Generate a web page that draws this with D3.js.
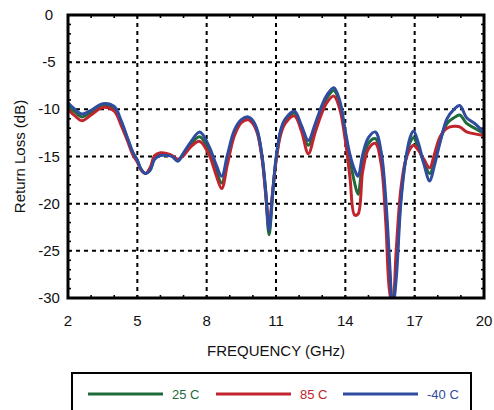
<!DOCTYPE html>
<meta charset="utf-8">
<style>
body { margin: 0; background: #fff; }
svg { font-family: "Liberation Sans", Arial, Helvetica, sans-serif; }
.tick-label { font-size: 15px; fill: #111; }
.axis-title { font-size: 15px; fill: #111; }
.legend-text { font-size: 13px; }
</style>
<body>
<script src="https://cdnjs.cloudflare.com/ajax/libs/d3/7.8.5/d3.min.js"></script>
<script>
'use strict';

// frequency points (GHz) shared by all three traces
const freq = [2.0, 2.3, 2.6, 3.0, 3.5, 4.0, 4.3, 4.6, 4.8, 5.0, 5.15, 5.35, 5.55, 5.75, 6.0, 6.3, 6.5, 6.75,
  7.0, 7.3, 7.7, 8.1, 8.4, 8.65, 8.9, 9.2, 9.5, 9.8, 10.0, 10.2, 10.4, 10.55, 10.7, 10.85, 11.0, 11.2, 11.4,
  11.8, 12.1, 12.4, 12.7, 13.0, 13.2, 13.5, 13.75, 14.0, 14.2, 14.4, 14.55, 14.75, 15.0, 15.3, 15.55, 15.75,
  15.9, 16.05, 16.2, 16.4, 16.6, 16.8, 16.95, 17.15, 17.4, 17.65, 17.85, 18.1, 18.4, 18.7, 18.95, 19.25, 19.6, 20.0];

// return loss (dB)
const rl25 = [-9.6, -10.3, -10.8, -10.3, -9.6, -9.9, -11.4, -13.3, -14.6, -15.4, -16.3, -16.8, -16.4, -15.1, -14.8, -14.8, -14.95, -15.4,
  -14.7, -13.7, -12.9, -14.4, -16.4, -17.8, -15.3, -12.5, -11.2, -10.9, -11.3, -12.4, -15.1, -18.7, -23.3, -19.2, -15.4, -12.4, -11.2,
  -10.4, -11.9, -13.8, -11.8, -9.8, -8.8, -8.0, -9.3, -12.6, -15.3, -17.8, -19.0, -15.6, -13.6, -13.1, -15.0, -20.5,
  -26.5, -31, -27, -19.5, -15.5, -13.5, -13.0, -14.0, -15.6, -16.8, -15.6, -13.3, -11.5, -10.9, -10.6, -11.5, -12.0, -12.6];

const rl85 = [-10.0, -10.7, -11.2, -10.6, -9.8, -10.2, -11.7, -13.5, -14.8, -15.6, -16.4, -16.8, -16.2, -14.9, -14.6, -14.7, -14.9, -15.3,
  -14.9, -14.0, -13.4, -14.8, -16.9, -18.4, -15.8, -12.8, -11.4, -11.1, -11.5, -12.6, -15.3, -18.9, -22.5, -18.8, -15.5, -12.7, -11.5,
  -10.7, -12.3, -14.7, -12.4, -10.3, -9.3, -8.6, -9.9, -13.3, -17.2, -21.2, -21.1, -16.6, -14.2, -13.6, -15.8, -22,
  -29, -31, -25, -18.5, -15.5, -14.2, -13.8, -14.3, -15.3, -16.2, -14.8, -12.9, -12.0, -11.8, -11.85, -12.4, -12.6, -12.8];

const rlm40 = [-9.3, -10.0, -10.5, -10.1, -9.4, -9.7, -11.2, -13.2, -14.5, -15.4, -16.3, -16.8, -16.5, -15.3, -14.9, -14.9, -15.0, -15.5,
  -14.6, -13.5, -12.4, -13.9, -15.8, -17.1, -14.8, -12.2, -11.1, -10.8, -11.2, -12.3, -15.0, -18.5, -22.8, -19.0, -15.2, -12.2, -11.0,
  -10.2, -11.7, -13.3, -11.5, -9.5, -8.5, -7.7, -9.0, -12.3, -14.8, -16.4, -17.1, -14.8, -13.0, -12.4, -14.5, -19.5,
  -25.5, -31, -28, -20, -15.5, -13.0, -12.3, -13.5, -15.8, -17.6, -16.0, -13.5, -11.0, -10.0, -9.6, -10.9, -11.5, -12.5];

const seriesNames = ["25 C", "85 C", "-40 C"];
const seriesColors = ["#1f6a3a", "#c0242c", "#2f4c9f"];
const xTicks = [2, 5, 8, 11, 14, 17, 20];
const yTicks = [0, -5, -10, -15, -20, -25, -30];

const W = 494, H = 410;
const plot = {left: 68, right: 484, top: 15, bottom: 298};

const svg = d3.select("body").append("svg")
    .attr("width", W)
    .attr("height", H);

const x = d3.scaleLinear().domain([2, 20]).range([plot.left, plot.right]);
const y = d3.scaleLinear().domain([-30, 0]).range([plot.bottom, plot.top]);

// dashed grid at the major ticks
svg.append("g").selectAll("line")
    .data(xTicks.slice(1, -1))
  .enter().append("line")
    .attr("x1", d => x(d)).attr("x2", d => x(d))
    .attr("y1", plot.top).attr("y2", plot.bottom)
    .attr("stroke", "#000").attr("stroke-width", 2).attr("stroke-dasharray", "4,4");

svg.append("g").selectAll("line")
    .data(yTicks.slice(1, -1))
  .enter().append("line")
    .attr("x1", plot.left).attr("x2", plot.right)
    .attr("y1", d => y(d)).attr("y2", d => y(d))
    .attr("stroke", "#000").attr("stroke-width", 2).attr("stroke-dasharray", "4,4");

// minor inward ticks on every side
const tk = 3;
const minorX = d3.range(3, 20, 1);
const minorY = d3.range(-29, 0, 1);
const ticks = svg.append("g").attr("stroke", "#000").attr("stroke-width", 1.6);
minorX.forEach(v => {
  ticks.append("line").attr("x1", x(v)).attr("x2", x(v)).attr("y1", plot.top).attr("y2", plot.top + tk);
  ticks.append("line").attr("x1", x(v)).attr("x2", x(v)).attr("y1", plot.bottom).attr("y2", plot.bottom - tk);
});
minorY.forEach(v => {
  ticks.append("line").attr("y1", y(v)).attr("y2", y(v)).attr("x1", plot.left).attr("x2", plot.left + tk);
  ticks.append("line").attr("y1", y(v)).attr("y2", y(v)).attr("x1", plot.right).attr("x2", plot.right - tk);
});

// traces
svg.append("clipPath").attr("id", "clip")
  .append("rect")
    .attr("x", plot.left).attr("y", plot.top)
    .attr("width", plot.right - plot.left).attr("height", plot.bottom - plot.top);

const line = d3.line()
    .x(d => x(d[0]))
    .y(d => y(d[1]))
    .curve(d3.curveCatmullRom.alpha(0.5));

const allSeries = [rl25, rl85, rlm40];
svg.append("g").attr("clip-path", "url(#clip)")
  .selectAll("path")
    .data(allSeries)
  .enter().append("path")
    .attr("d", s => line(freq.map((f, i) => [f, s[i]])))
    .attr("fill", "none")
    .attr("stroke", (s, i) => seriesColors[i])
    .attr("stroke-width", 3)
    .attr("stroke-linejoin", "round");

// frame
svg.append("rect")
    .attr("x", plot.left).attr("y", plot.top)
    .attr("width", plot.right - plot.left).attr("height", plot.bottom - plot.top)
    .attr("fill", "none").attr("stroke", "#000").attr("stroke-width", 3);

// tick labels
svg.append("g").selectAll("text")
    .data(xTicks)
  .enter().append("text")
    .attr("class", "tick-label")
    .attr("x", d => x(d)).attr("y", 326)
    .attr("text-anchor", "middle")
    .text(d => d);

svg.append("g").selectAll("text")
    .data(yTicks)
  .enter().append("text")
    .attr("class", "tick-label")
    .attr("x", 49).attr("y", d => y(d) + 5)
    .attr("text-anchor", "middle")
    .text(d => d);

svg.append("text")
    .attr("class", "axis-title")
    .attr("x", (plot.left + plot.right) / 2).attr("y", 356)
    .attr("text-anchor", "middle")
    .text("FREQUENCY (GHz)");

svg.append("text")
    .attr("class", "axis-title")
    .attr("transform", "translate(25," + ((plot.top + plot.bottom) / 2) + ") rotate(-90)")
    .attr("text-anchor", "middle")
    .text("Return Loss (dB)");

// legend
svg.append("rect")
    .attr("x", 72).attr("y", 373)
    .attr("width", 399).attr("height", 50)
    .attr("fill", "none").attr("stroke", "#000").attr("stroke-width", 2);

const legendX = [88, 216, 343];
const leg = svg.append("g").selectAll("g")
    .data(seriesNames)
  .enter().append("g")
    .attr("transform", (d, i) => "translate(" + legendX[i] + ",394)");
leg.append("line")
    .attr("x1", 0).attr("x2", 75)
    .attr("stroke", (d, i) => seriesColors[i]).attr("stroke-width", 3);
leg.append("text")
    .attr("class", "legend-text")
    .attr("x", 84).attr("y", 4.5)
    .attr("fill", (d, i) => seriesColors[i])
    .text(d => d);
</script>
</body>
